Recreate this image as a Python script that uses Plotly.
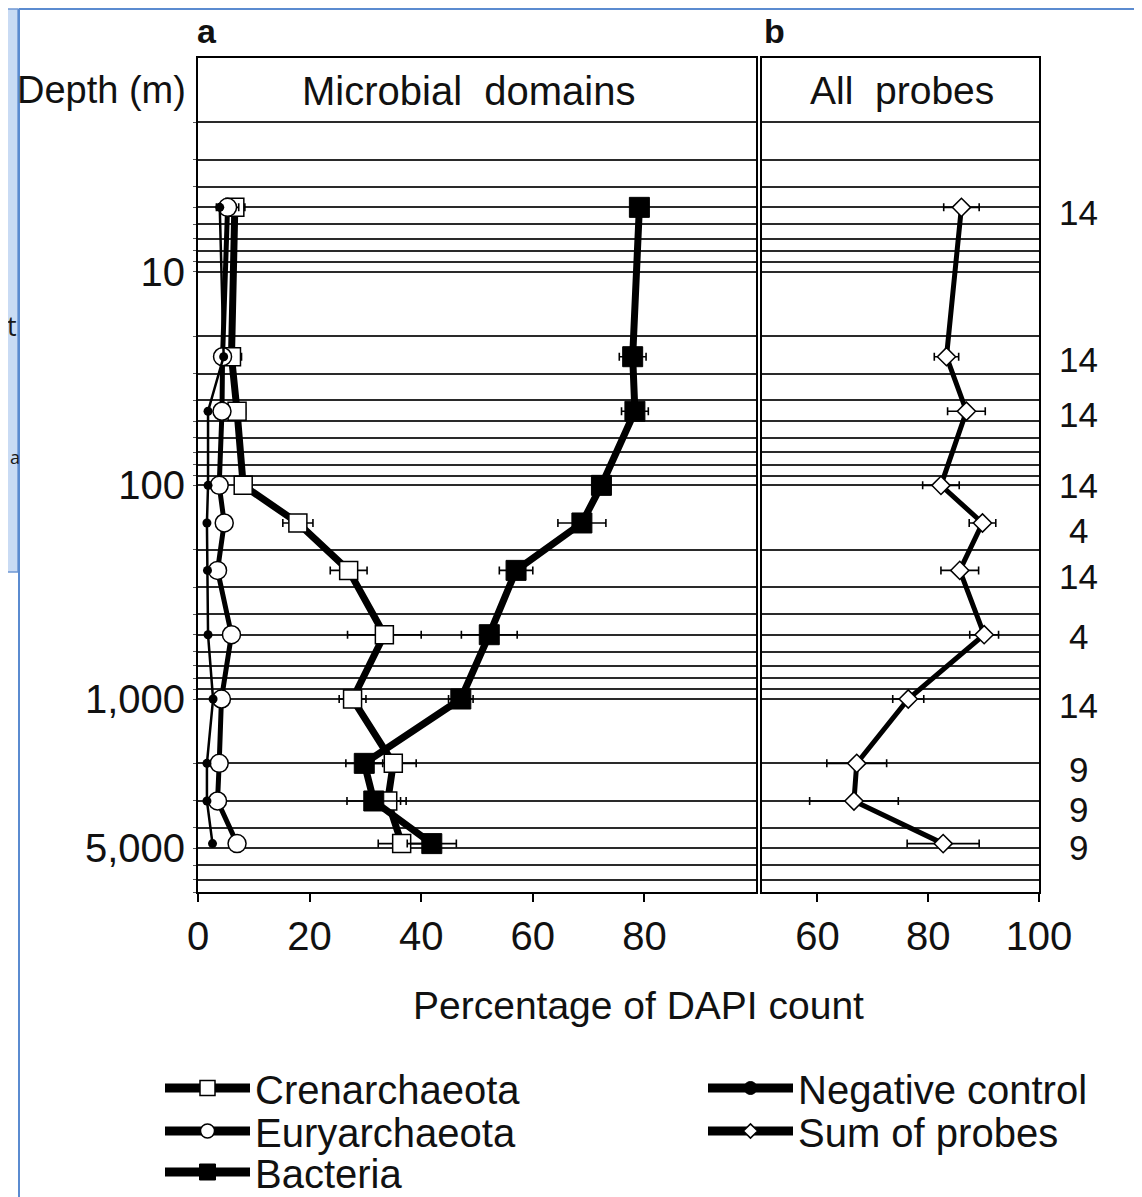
import math
import plotly.graph_objects as go

# ---------------- data ----------------
depth_m = [5, 25, 45, 100, 150, 250, 500, 1000, 2000, 3000, 4750]

crenarchaeota = [6.6, 6.0, 7.0, 8.1, 17.9, 27.0, 33.4, 27.7, 35.0, 34.0, 36.5]
crenarchaeota_err = [1.8, 1.8, 1.5, 1.0, 2.7, 3.3, 6.6, 2.4, 4.1, 3.3, 4.2]

euryarchaeota = [5.3, 4.4, 4.3, 3.8, 4.7, 3.5, 6.0, 4.2, 3.8, 3.5, 7.0]
euryarchaeota_err = [2.0, 1.0, 1.0, 0.8, 0.8, 0.8, 1.0, 0.8, 0.8, 0.8, 1.0]

bacteria = [79.1, 77.9, 78.3, 72.3, 68.8, 57.0, 52.2, 47.1, 29.8, 31.5, 41.9]
bacteria_err = [1.0, 2.4, 2.4, 1.5, 4.3, 3.0, 5.0, 2.2, 3.3, 4.8, 4.4]

negative_control = [3.9, 4.6, 1.8, 1.8, 1.6, 1.7, 1.8, 2.7, 1.6, 1.6, 2.6]

sum_of_probes = [86.0, 83.3, 86.9, 82.3, 89.8, 85.7, 90.1, 76.4, 67.1, 66.6, 82.7]
sum_of_probes_err = [3.2, 2.2, 3.4, 3.3, 2.4, 3.4, 2.6, 2.8, 5.4, 8.0, 6.5]

n_probes = ["14", "14", "14", "14", "4", "14", "4", "14", "9", "9", "9"]

x_ticks_a = [0, 20, 40, 60, 80]
x_ticks_b = [60, 80, 100]
y_label_vals = [10, 100, 1000, 5000]
y_label_text = ["10", "100", "1,000", "5,000"]

# ---------------- figure geometry ----------------
W, H = 1142, 1197
OFF = 8  # the page places the figure 8 px in from the top-left corner
FONT = "Liberation Sans, Arial, Helvetica, sans-serif"


def px_x(p):
    return (p - OFF) / W


def px_y(p):
    return 1 - (p - OFF) / H


# log grid lines (2..9 per decade), labels only at a few of them
grid_depths = [m * 10 ** e for e in range(4) for m in range(1, 10) if 1 < m * 10 ** e <= 8000]
grid_text = [y_label_text[y_label_vals.index(d)] if d in y_label_vals else "" for d in grid_depths]

fig = go.Figure()

err_style = dict(type="data", color="black", thickness=1.6, width=4)

fig.add_trace(go.Scatter(
    x=crenarchaeota, y=depth_m, name="Crenarchaeota", mode="lines+markers",
    line=dict(color="black", width=7),
    marker=dict(symbol="square", size=18, color="white", line=dict(color="black", width=1.5)),
    error_x=dict(array=crenarchaeota_err, **err_style),
    xaxis="x", yaxis="y", showlegend=False))

fig.add_trace(go.Scatter(
    x=bacteria, y=depth_m, name="Bacteria", mode="lines+markers",
    line=dict(color="black", width=7),
    marker=dict(symbol="square", size=20, color="black", line=dict(color="black", width=1)),
    error_x=dict(array=bacteria_err, **err_style),
    xaxis="x", yaxis="y", showlegend=False))

fig.add_trace(go.Scatter(
    x=euryarchaeota, y=depth_m, name="Euryarchaeota", mode="lines+markers",
    line=dict(color="black", width=5),
    marker=dict(symbol="circle", size=18, color="white", line=dict(color="black", width=1.5)),
    error_x=dict(array=euryarchaeota_err, **err_style),
    xaxis="x", yaxis="y", showlegend=False))

fig.add_trace(go.Scatter(
    x=negative_control, y=depth_m, name="Negative control", mode="lines+markers",
    line=dict(color="black", width=2.5),
    marker=dict(symbol="circle", size=9, color="black"),
    xaxis="x", yaxis="y", showlegend=False))

fig.add_trace(go.Scatter(
    x=sum_of_probes, y=depth_m, name="Sum of probes", mode="lines+markers",
    line=dict(color="black", width=5),
    marker=dict(symbol="diamond", size=14, color="white", line=dict(color="black", width=1.5)),
    error_x=dict(array=sum_of_probes_err, **err_style),
    xaxis="x2", yaxis="y2", showlegend=False))

# legend keys (drawn in the style of the printed key: heavy line + symbol)
legend_keys = [
    ("Crenarchaeota", "legend", dict(symbol="square", size=15, color="white", line=dict(color="black", width=1.5))),
    ("Euryarchaeota", "legend2", dict(symbol="circle", size=14, color="white", line=dict(color="black", width=1.5))),
    ("Bacteria", "legend3", dict(symbol="square", size=16, color="black", line=dict(color="black", width=1))),
    ("Negative control", "legend4", dict(symbol="circle", size=13, color="black", line=dict(color="black", width=1))),
    ("Sum of probes", "legend5", dict(symbol="diamond", size=11, color="white", line=dict(color="black", width=1.5))),
]
for name, leg, mk in legend_keys:
    fig.add_trace(go.Scatter(
        x=[None], y=[None], name=name, mode="lines+markers",
        line=dict(color="black", width=9), marker=mk,
        xaxis="x", yaxis="y", legend=leg, showlegend=True, hoverinfo="skip"))

# ---------------- axes ----------------
ydom = [px_y(892), px_y(58)]
common_y = dict(
    type="log", range=[3.90309, 0], domain=ydom,
    tickmode="array", tickvals=grid_depths, ticktext=grid_text,
    showgrid=True, gridcolor="#2a2a2a", gridwidth=1.6,
    showline=True, linecolor="black", linewidth=2, mirror=True,
    zeroline=False, automargin=False,
)

xa_common = dict(ticks="outside", ticklen=8, tickwidth=1.5, tickcolor="black",
                 showgrid=False, zeroline=False, showline=True, linecolor="black",
                 linewidth=2, mirror=True, automargin=False, tickmode="array",
                 tickfont=dict(family=FONT, size=40, color="#111"))

layout_axes = dict(
    xaxis=dict(domain=[px_x(198), px_x(756)], range=[0, 100], anchor="y",
               tickvals=x_ticks_a, **xa_common),
    xaxis2=dict(domain=[px_x(762), px_x(1039)], range=[50, 100], anchor="y2",
                tickvals=x_ticks_b, **xa_common),
    yaxis=dict(anchor="x", ticks="outside", ticklen=3, tickwidth=1, tickcolor="#555",
               ticklabelstandoff=0,
               tickfont=dict(family=FONT, size=40, color="#111"), **common_y),
    yaxis2=dict(anchor="x2", matches="y", ticks="", showticklabels=False, **common_y),
)


def legend_at(x_px, y_px):
    return dict(x=px_x(x_px), y=px_y(y_px), xanchor="left", yanchor="middle",
                orientation="v", itemwidth=85, bgcolor="rgba(0,0,0,0)",
                borderwidth=0, font=dict(family=FONT, size=40, color="#111"))


def note(text, x_px, y_px, size=40, xanchor="center", family=FONT, color="#111"):
    return dict(text=text, x=px_x(x_px), y=px_y(y_px), xref="paper", yref="paper",
                xanchor=xanchor, yanchor="middle", showarrow=False, borderpad=0,
                font=dict(family=family, size=size, color=color))


annotations = [
    note("Depth (m)", 102, 90, size=38),
    note("Microbial  domains", 468, 91),
    note("All  probes", 902, 91, size=39),
    note("<b>a</b>", 207, 31, size=34),
    note("<b>b</b>", 774, 31, size=34),
    note("Percentage of DAPI count", 638, 1005, size=39),
    # fragments of the slide behind the figure
    note("t", 18, 325, size=27, xanchor="right", family="Open Sans, sans-serif", color="#1a1a1a"),
    note("a", 9, 457, size=18, xanchor="left", family="Open Sans, sans-serif", color="#1a1a1a"),
]

# number of probes at each depth, written to the right of panel b
label_shift_px = [-5, -3, -3, 0, -8, -6, -2, -6, -6, -9, -4]
for d, n, s in zip(depth_m, n_probes, label_shift_px):
    annotations.append(dict(
        text=n, x=px_x(1078), y=math.log10(d), xref="paper", yref="y2",
        xanchor="center", yanchor="middle", yshift=s, showarrow=False, borderpad=0,
        font=dict(family=FONT, size=35, color="#111")))

shapes = [
    # slide box on the left
    dict(type="rect", xref="paper", yref="paper", x0=px_x(0), x1=px_x(18), y0=px_y(572), y1=px_y(9),
         fillcolor="#c9dbf4", line=dict(color="#6f98d4", width=1.5), layer="below"),
    # outer blue frame
    dict(type="line", xref="paper", yref="paper", x0=px_x(19), x1=px_x(19), y0=0, y1=px_y(9),
         line=dict(color="#5b8bd0", width=2)),
    dict(type="line", xref="paper", yref="paper", x0=px_x(19), x1=px_x(1139), y0=px_y(9), y1=px_y(9),
         line=dict(color="#5b8bd0", width=2)),
    dict(type="line", xref="paper", yref="paper", x0=px_x(1138), x1=px_x(1138), y0=0, y1=px_y(9),
         line=dict(color="#5b8bd0", width=2)),
]

fig.update_layout(
    width=W, height=H,
    margin=dict(l=0, r=0, t=0, b=0, pad=0, autoexpand=False),
    paper_bgcolor="white", plot_bgcolor="white",
    font=dict(family=FONT, color="#111"),
    showlegend=True,
    legend=legend_at(160, 1088),
    legend2=legend_at(160, 1131),
    legend3=legend_at(160, 1172),
    legend4=legend_at(703, 1088),
    legend5=legend_at(703, 1131),
    annotations=annotations,
    shapes=shapes,
    **layout_axes,
)

fig.write_html("out.html")
